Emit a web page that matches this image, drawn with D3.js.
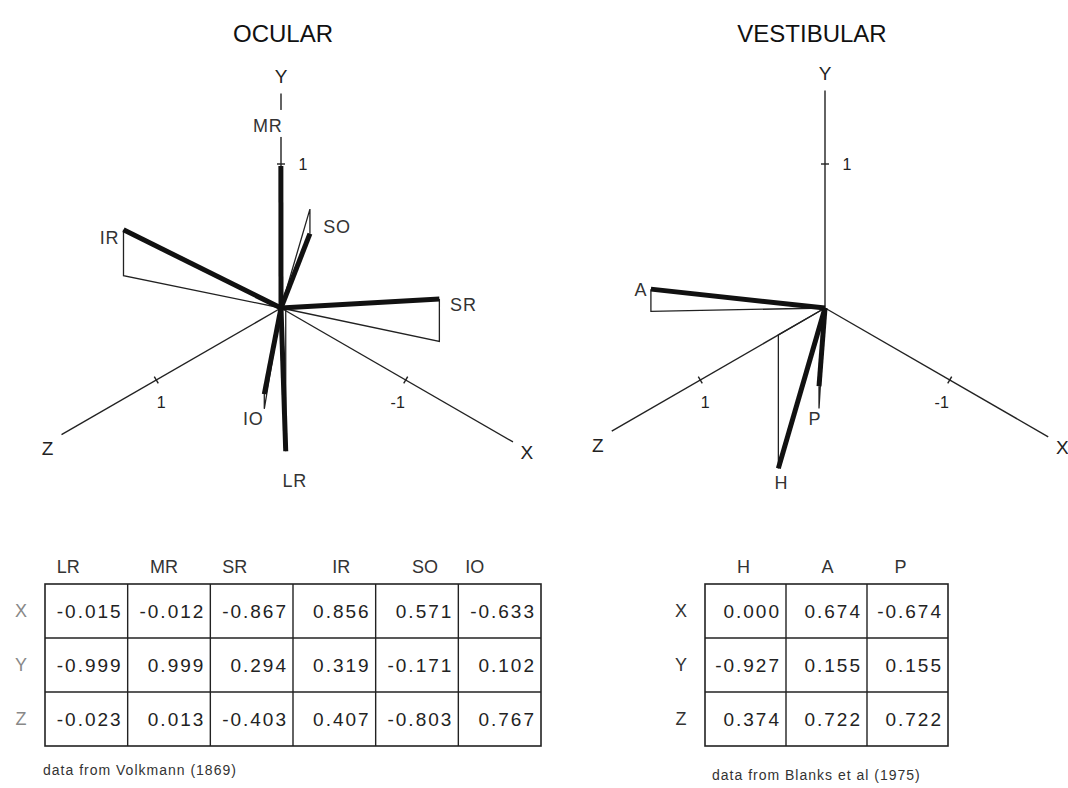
<!DOCTYPE html>
<html>
<head>
<meta charset="utf-8">
<script src="https://cdn.jsdelivr.net/npm/d3@7"></script>
<style>
  body { margin: 0; background: #fff; }
  svg { display: block; }
  text { font-family: "Liberation Sans", Arial, Helvetica, sans-serif; }
</style>
</head>
<body>
<svg id="chart" width="1068" height="788"></svg>
<script>
// Pulling directions of the extraocular muscles (Volkmann, 1869)
const ocularMuscles = ["LR", "MR", "SR", "IR", "SO", "IO"];
const ocularX = [-0.015, -0.012, -0.867, 0.856, 0.571, -0.633];
const ocularY = [-0.999, 0.999, 0.294, 0.319, -0.171, 0.102];
const ocularZ = [-0.023, 0.013, -0.403, 0.407, -0.803, 0.767];

// Semicircular canal axes (Blanks et al, 1975)
const canals = ["H", "A", "P"];
const canalX = [0.000, 0.674, -0.674];
const canalY = [-0.927, 0.155, 0.155];
const canalZ = [0.374, 0.722, 0.722];

const axisNames = ["X", "Y", "Z"];
const unitTick = 1;

const svg = d3.select("#chart");

// Oblique projection: X points up-left, Z down-left, Y straight up
const unit = d3.scaleLinear().domain([0, 1]).range([0, 144]);
const C30 = Math.cos(Math.PI / 6), S30 = Math.sin(Math.PI / 6);
function projector(ox, oy) {
  return (x, y, z) => [ox - C30 * unit(x + z), oy + S30 * unit(z - x) - unit(y)];
}

const panels = [
  {
    title: "OCULAR", titleX: 283,
    origin: [281, 308],
    extent: { x: 1.86, y: 1.49, z: 1.76 },
    names: ocularMuscles, xs: ocularX, ys: ocularY, zs: ocularZ,
    labelOffset: [[9, 29], [-13, -40], [24, 6], [-14, 8], [27, -7], [-11, 25]],
    boxedLabel: "MR"
  },
  {
    title: "VESTIBULAR", titleX: 812,
    origin: [825, 308],
    extent: { x: 1.79, y: 1.51, z: 1.71 },
    names: canals, xs: canalX, ys: canalY, zs: canalZ,
    labelOffset: [[3, 14], [-10, 1], [-4, 32]],
    boxedLabel: null
  }
];

panels.forEach(p => {
  const proj = projector(p.origin[0], p.origin[1]);
  const g = svg.append("g");
  const O = proj(0, 0, 0);

  g.append("text")
    .attr("x", p.titleX).attr("y", 42)
    .attr("text-anchor", "middle")
    .attr("font-size", 24).attr("fill", "#111")
    .text(p.title);

  // Axes: +Z toward lower left, -X toward lower right, +Y up
  const axes = [
    { name: "Z", end: proj(0, 0, p.extent.z), tick: [0, 0, unitTick], tickLabel: "1" },
    { name: "X", end: proj(-p.extent.x, 0, 0), tick: [-unitTick, 0, 0], tickLabel: "-1" },
    { name: "Y", end: proj(0, p.extent.y, 0), tick: [0, unitTick, 0], tickLabel: "1" }
  ];

  g.selectAll("line.axis").data(axes).join("line")
    .attr("class", "axis")
    .attr("x1", O[0]).attr("y1", O[1])
    .attr("x2", d => d.end[0]).attr("y2", d => d.end[1])
    .attr("stroke", "#222").attr("stroke-width", 1.4);

  // tick marks at unit distance, drawn across each axis
  axes.forEach(a => {
    const t = proj(...a.tick);
    const dx = a.end[0] - O[0], dy = a.end[1] - O[1];
    const len = Math.hypot(dx, dy);
    const nx = -dy / len * 4, ny = dx / len * 4;
    g.append("line")
      .attr("x1", t[0] - nx).attr("y1", t[1] - ny)
      .attr("x2", t[0] + nx).attr("y2", t[1] + ny)
      .attr("stroke", "#222").attr("stroke-width", 1.4);
    let lx, ly;
    if (a.name === "Y") { lx = t[0] + 22; ly = t[1]; }
    else if (a.name === "Z") { lx = t[0] + 5; ly = t[1] + 22; }
    else { lx = t[0] - 8; ly = t[1] + 22; }
    g.append("text")
      .attr("x", lx).attr("y", ly).attr("dy", "0.35em")
      .attr("text-anchor", "middle").attr("font-size", 16).attr("fill", "#222")
      .text(a.tickLabel);
    let ax, ay;
    if (a.name === "Y") { ax = a.end[0]; ay = a.end[1] - 17; }
    else if (a.name === "Z") { ax = a.end[0] - 14; ay = a.end[1] + 14; }
    else { ax = a.end[0] + 14; ay = a.end[1] + 10; }
    g.append("text")
      .attr("x", ax).attr("y", ay).attr("dy", "0.35em")
      .attr("text-anchor", "middle").attr("font-size", 19).attr("fill", "#222")
      .text(a.name);
  });

  // Each vector: thin drop line from its floor projection, thick line from origin
  const vecs = p.names.map((n, i) => ({
    name: n,
    tip: proj(p.xs[i], p.ys[i], p.zs[i]),
    base: proj(p.xs[i], 0, p.zs[i]),
    off: p.labelOffset[i]
  }));

  g.selectAll("path.drop").data(vecs).join("path")
    .attr("class", "drop")
    .attr("d", d => d3.line()([O, d.base, d.tip]))
    .attr("fill", "none").attr("stroke", "#222").attr("stroke-width", 1.3);

  g.selectAll("line.vec").data(vecs).join("line")
    .attr("class", "vec")
    .attr("x1", O[0]).attr("y1", O[1])
    .attr("x2", d => d.tip[0]).attr("y2", d => d.tip[1])
    .attr("stroke", "#111").attr("stroke-width", 5).attr("stroke-linecap", "butt");

  const labels = g.selectAll("g.vlabel").data(vecs).join("g").attr("class", "vlabel")
    .attr("transform", d => `translate(${d.tip[0] + d.off[0]},${d.tip[1] + d.off[1]})`);
  labels.filter(d => d.name === p.boxedLabel).append("rect")
    .attr("x", -24).attr("y", -16).attr("width", 46).attr("height", 27)
    .attr("fill", "#fff");
  labels.append("text")
    .attr("dy", "0.35em").attr("text-anchor", "middle")
    .attr("font-size", 18).attr("letter-spacing", 0.8).attr("fill", "#333")
    .text(d => d.name);
});

// Tables of direction cosines
const fmt = d3.formatLocale({ decimal: ".", thousands: ",", grouping: [3], currency: ["", ""], minus: "-" }).format(".3f");

function drawTable(t) {
  const top = 584, bottom = 746;
  const col = d3.scaleBand().domain(t.names).range([t.left, t.right]);
  const row = d3.scaleBand().domain(axisNames).range([top, bottom]);
  const vals = { X: t.xs, Y: t.ys, Z: t.zs };
  const g = svg.append("g");

  g.append("rect")
    .attr("x", t.left).attr("y", top).attr("width", t.right - t.left).attr("height", bottom - top)
    .attr("fill", "none").attr("stroke", "#222").attr("stroke-width", 1.6);
  g.selectAll("line.c").data(t.names.slice(1)).join("line")
    .attr("x1", d => col(d)).attr("x2", d => col(d))
    .attr("y1", top).attr("y2", bottom)
    .attr("stroke", "#222").attr("stroke-width", 1.4);
  g.selectAll("line.r").data(axisNames.slice(1)).join("line")
    .attr("y1", d => row(d)).attr("y2", d => row(d))
    .attr("x1", t.left).attr("x2", t.right)
    .attr("stroke", "#222").attr("stroke-width", 1.4);

  g.selectAll("text.h").data(t.names).join("text")
    .attr("x", (d, i) => col(d) + col.bandwidth() / 2 + t.headNudge[i]).attr("y", top - 17)
    .attr("dy", "0.35em").attr("text-anchor", "middle")
    .attr("font-size", 18).attr("fill", "#333").text(d => d);

  g.selectAll("text.rl").data(axisNames).join("text")
    .attr("x", t.rowLabelX).attr("y", d => row(d) + row.bandwidth() / 2)
    .attr("dy", "0.35em").attr("text-anchor", "middle")
    .attr("font-size", 18).attr("fill", t.rowLabelColor).text(d => d);

  axisNames.forEach(a => {
    g.selectAll(null).data(t.names).join("text")
      .attr("x", d => col(d) + col.bandwidth() - 5)
      .attr("y", row(a) + row.bandwidth() / 2)
      .attr("dy", "0.35em").attr("text-anchor", "end")
      .attr("font-size", 19).attr("letter-spacing", 2).attr("fill", "#222")
      .text((d, i) => fmt(vals[a][i]));
  });

  g.append("text")
    .attr("x", t.capX).attr("y", t.capY).attr("dy", "0.35em")
    .attr("font-size", 14).attr("letter-spacing", 1).attr("fill", "#333").text(t.caption);
}

drawTable({
  names: ocularMuscles, xs: ocularX, ys: ocularY, zs: ocularZ,
  left: 45, right: 541, rowLabelX: 21, rowLabelColor: "#888",
  headNudge: [-18, -5, -17, 7, 8, -25],
  caption: "data from Volkmann (1869)", capX: 43, capY: 770
});
drawTable({
  names: canals, xs: canalX, ys: canalY, zs: canalZ,
  left: 705, right: 948, rowLabelX: 681, rowLabelColor: "#333",
  headNudge: [-2, 1, -7],
  caption: "data from Blanks et al (1975)", capX: 712, capY: 775
});
</script>
</body>
</html>
